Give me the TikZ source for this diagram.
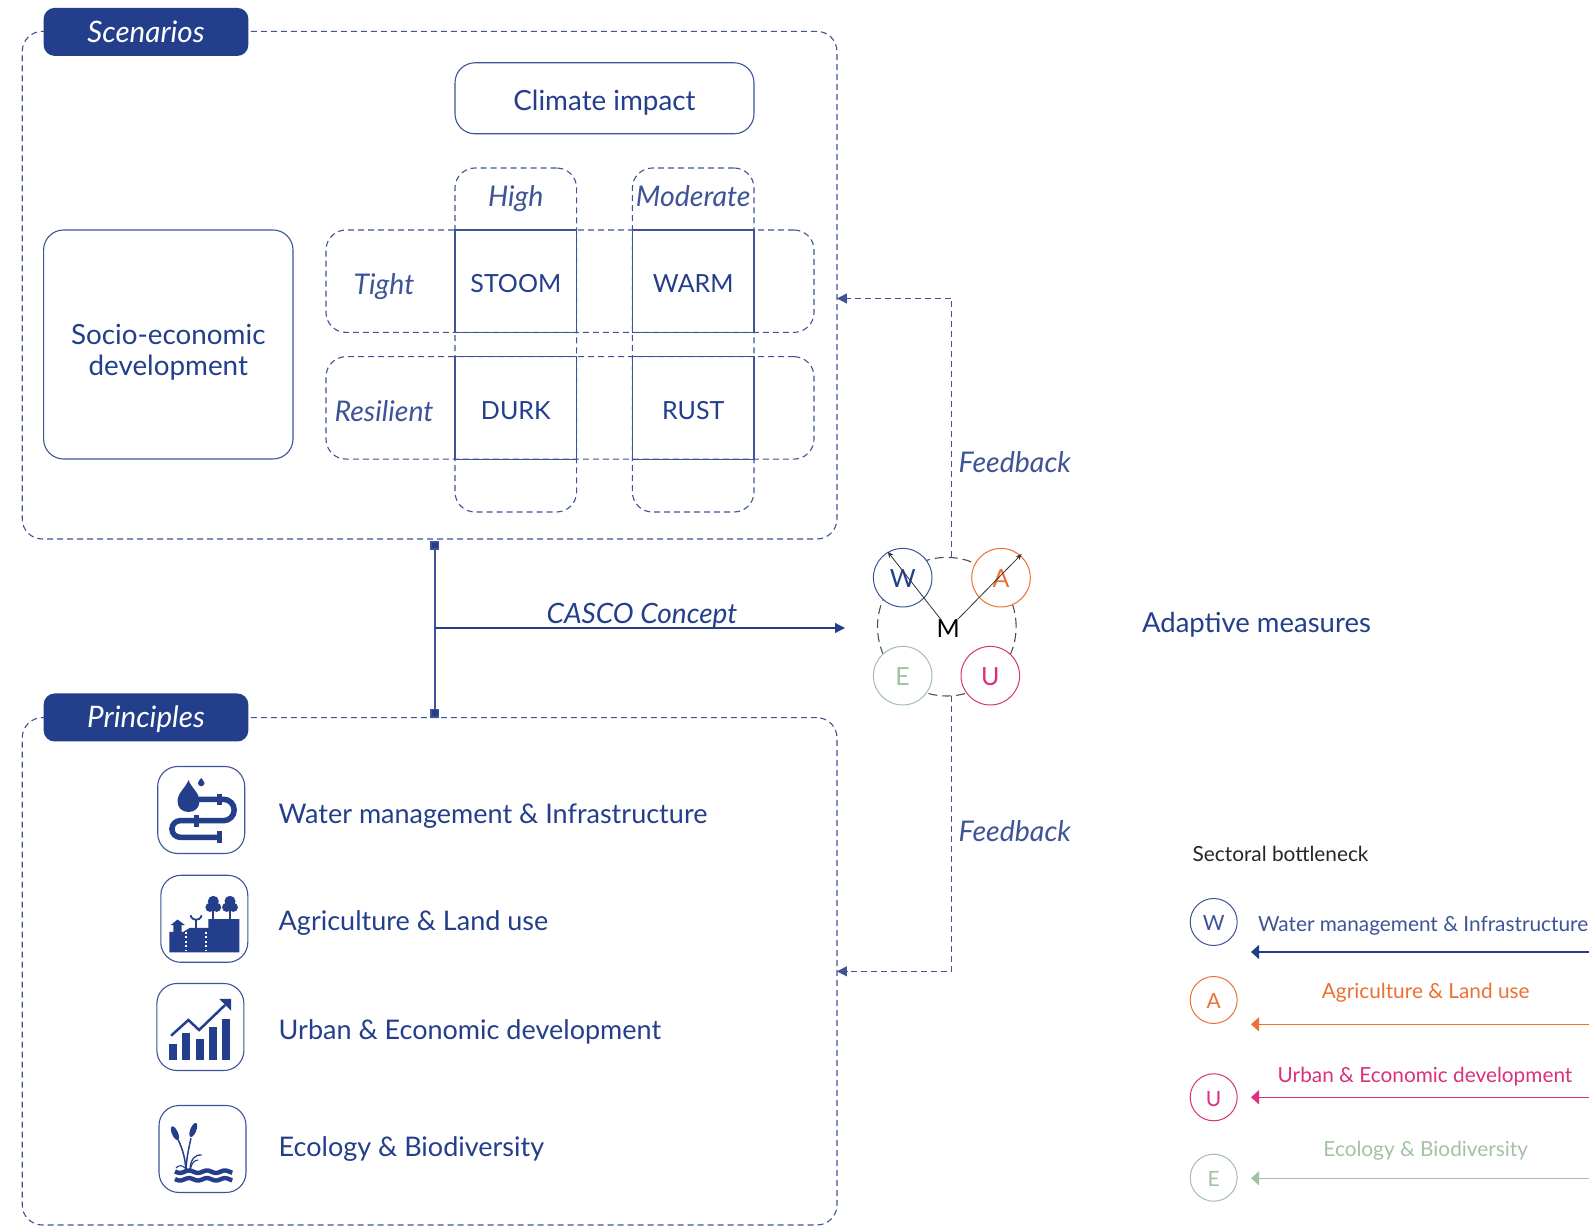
\documentclass[tikz,border=0pt]{standalone}
\usepackage{fontspec}
\setmainfont{Lato}
\usetikzlibrary{arrows.meta}
\definecolor{navyColor}{RGB}{35,63,139}
\definecolor{lineColor}{RGB}{62,84,151}
\definecolor{orangeColor}{RGB}{236,112,50}
\definecolor{pinkColor}{RGB}{217,48,127}
\definecolor{greenColor}{RGB}{164,193,164}
\definecolor{ringColor}{RGB}{80,80,80}
\tikzset{
  box/.style={draw=lineColor,line width=1.1pt,rounded corners=20pt,inner sep=0pt,outer sep=0pt,fill=none},
  dashbox/.style={box,dash pattern=on 6pt off 4pt},
  cell/.style={draw=lineColor,line width=1.1pt,inner sep=0pt,outer sep=0pt,minimum width=121.6pt,minimum height=102.4pt,text=navyColor,text height=23pt,text depth=0pt,font=\fontsize{25}{30}\selectfont},
  tag/.style={fill=navyColor,rounded corners=11pt,inner sep=0pt,outer sep=0pt,minimum width=204.7pt,minimum height=48pt,text=white,text height=21pt,text depth=0pt,font=\fontsize{29.6}{34}\selectfont\itshape},
  lab/.style={text=navyColor,font=\fontsize{27}{32}\selectfont,inner sep=0pt,outer sep=0pt,text height=19pt,text depth=5pt},
  bigger/.style={font=\fontsize{27.8}{31.4}\selectfont},
  ital/.style={text=lineColor,font=\fontsize{28.5}{32}\selectfont\itshape,inner sep=0pt,outer sep=0pt,text height=20pt,text depth=5pt},
  iconbox/.style={box,minimum width=87pt,minimum height=87pt},
  sector/.style={circle,fill=white,inner sep=0pt,outer sep=0pt,line width=1pt,minimum size=58.6pt,text height=20pt,text depth=0pt,font=\fontsize{25}{30}\selectfont},
  legendsector/.style={circle,inner sep=0pt,outer sep=0pt,line width=1pt,minimum size=47pt,text height=18pt,text depth=0pt,font=\fontsize{21}{26}\selectfont},
  legendtext/.style={inner sep=0pt,outer sep=0pt,text height=15pt,text depth=4pt,font=\fontsize{20.8}{26}\selectfont},
  legendarrow/.style={line width=1.2pt,-{Triangle[length=8pt,width=14pt]}},
  feedback/.style={draw=lineColor,line width=1.1pt,dash pattern=on 6pt off 4pt,-{Triangle[length=10pt,width=10pt]}},
}
\begin{document}
\begin{tikzpicture}[x=1pt,y=1pt]
\path[use as bounding box,fill=white] (0,0) rectangle (1589,1226);

% scenarios
\node[dashbox,minimum width=814.7pt,minimum height=507.6pt] (scenbox) at (429.6,940.8) {};
\node[tag] (scentag) at (146,1194.1) {Scenarios};
\node[box,minimum width=299pt,minimum height=71pt,lab,bigger,text height=29pt] (climate) at (604.5,1127.7) {Climate impact};
\node[box,minimum width=249.4pt,minimum height=229pt] (socio) at (168.3,881.5) {};
\node[text=navyColor,bigger,align=center,inner sep=0pt] (sociotext) at (168.3,873.9) {Socio-economic\\development};

\node[dashbox,minimum width=121.6pt,minimum height=344pt] (highcol) at (515.8,886) {};
\node[dashbox,minimum width=121.6pt,minimum height=344pt] (modcol) at (693.2,886) {};
\node[dashbox,minimum width=488pt,minimum height=102.4pt] (tightrow) at (570,944.8) {};
\node[dashbox,minimum width=488pt,minimum height=102.4pt] (resrow) at (570,818.1) {};

\node[cell] (stoom) at (515.8,944.8) {STOOM};
\node[cell] (warm) at (693.2,944.8) {WARM};
\node[cell] (durk) at (515.8,818.1) {DURK};
\node[cell] (rust) at (693.2,818.1) {RUST};

\node[ital] (high) at (515.8,1027.4) {High};
\node[ital] (moderate) at (693.2,1027.4) {Moderate};
\node[ital] (tight) at (384,939.3) {Tight};
\node[ital] (resilient) at (384,812) {Resilient};

% principles
\node[dashbox,minimum width=814.7pt,minimum height=507.3pt] (prinbox) at (429.6,254.65) {};
\node[tag] (printag) at (146,508.5) {Principles};

\node[iconbox] (iconwater) at (201.2,416) {};
\node[iconbox] (iconland) at (204.3,307.2) {};
\node[iconbox] (iconurban) at (200.4,199) {};
\node[iconbox] (iconeco) at (202.5,77) {};

\node[lab,anchor=west] (water) at (278.7,409) {Water management \& Infrastructure};
\node[lab,anchor=west] (land) at (278.7,302) {Agriculture \& Land use};
\node[lab,anchor=west] (urban) at (278.7,193.4) {Urban \& Economic development};
\node[lab,anchor=west] (eco) at (278.7,77) {Ecology \& Biodiversity};

% water icon
\begin{scope}[shift={(iconwater.center)}]
\path[fill=navyColor] (-12.7,30) .. controls (-15,23) and (-23.7,17) .. (-23.7,9) .. controls (-23.7,2) and (-19,-2) .. (-12.7,-2) .. controls (-6.5,-2) and (-1.7,2) .. (-1.7,9) .. controls (-1.7,17) and (-10.4,23) .. cycle;
\path[fill=navyColor] (0,32) .. controls (-1,30) and (-3.3,29) .. (-3.3,27) arc[start angle=180,end angle=360,radius=3.3] .. controls (3.3,29) and (1,30) .. cycle;
\path[draw=navyColor,line width=5.5pt] (-2.7,10.7) -- (22.3,10.7) arc[start angle=90,end angle=-90,radius=10.7] -- (-21,-10.7) arc[start angle=90,end angle=270,radius=8.3] -- (18.3,-27.3);
\path[draw=navyColor,line width=4.7pt] (18.3,16) -- (18.3,5);
\path[draw=navyColor,line width=4.7pt] (-5,-5) -- (-5,-17);
\path[draw=navyColor,line width=4.7pt] (18.3,-21) -- (18.3,-33);
\end{scope}

% land icon
\begin{scope}[shift={(iconland.center)}]
\path[fill=navyColor] (-35,-33.7) -- (-35,-13) -- (-31,-13) -- (-31,-6.3) -- (-33.7,-6.3) -- (-26.7,-0.7) -- (-19.3,-6.3) -- (-22.7,-6.3) -- (-22.7,-13) -- (-21,-13) -- (-14.3,-9) -- (4,-9) -- (4,-0.3) -- (35,-0.3) -- (35,-33.7) -- cycle;
\path[draw=white,line width=2pt,dash pattern=on 2pt off 2.5pt] (-18.7,-13) -- (-18.7,-32);
\path[draw=white,line width=2pt,dash pattern=on 2pt off 2.5pt] (1.3,-13) -- (1.3,-32);
\path[draw=navyColor,line width=1.8pt] (-8.3,-9) -- (-8.3,-1);
\path[draw=navyColor,line width=1.8pt] (-13.7,3.5) .. controls (-13,0) and (-10,-1) .. (-8.3,-1) .. controls (-6,-1) and (-3.5,0) .. (-2.7,3.5);
\foreach \tx in {9,25.7} {
  \path[draw=navyColor,line width=2pt] (\tx,0) -- (\tx,12);
  \path[fill=navyColor] (\tx,17.5) circle (5.5);
  \path[fill=navyColor] (\tx-3.3,11.5) circle (4.6);
  \path[fill=navyColor] (\tx+3.3,11.5) circle (4.6);
}
\end{scope}

% urban icon
\begin{scope}[shift={(iconurban.center)}]
\foreach \bx/\bt in {-31/-17,-18/-6.3,-4.7/-12,9/-0.3,22/8} {
  \path[fill=navyColor] (\bx,-33) rectangle (\bx+8,\bt);
}
\path[draw=navyColor,line width=2.5pt] (-29.3,-8.7) -- (-12,7) -- (-1.3,-3) -- (24.7,22);
\path[fill=navyColor] (30.7,28) -- (19,28) -- (30.7,16.3) -- cycle;
\end{scope}

% eco icon
\begin{scope}[shift={(iconeco.center)}]
\path[fill=navyColor,rotate around={114:(-27.5,15.7)}] (-27.5,15.7) ellipse (7.5 and 3);
\path[fill=navyColor,rotate around={68:(-9.2,19)}] (-9.2,19) ellipse (7.5 and 3);
\path[draw=navyColor,line width=1.5pt] (-24.2,9) .. controls (-20,0) and (-17,-10) .. (-16.8,-20.3);
\path[draw=navyColor,line width=1.5pt] (-11.5,10.7) .. controls (-14,0) and (-16,-10) .. (-16.5,-20.3);
\path[draw=navyColor,line width=1.3pt] (-12.5,-20.3) .. controls (-12,-9) and (-6,-5) .. (-0.8,-6);
\path[draw=navyColor,line width=1.1pt] (-12,-20) .. controls (-11,-14) and (-8,-11) .. (-4.2,-11);
\path[draw=navyColor,line width=1.1pt] (-26.5,-19) .. controls (-24,-16) and (-20,-16) .. (-17.5,-19);
\path[draw=navyColor,line width=4.4pt] plot[domain=-27.5:29.8,samples=60] (\x,{-22.7+1.2*sin(\x*20)});
\path[draw=navyColor,line width=4.4pt] plot[domain=-27.5:29.8,samples=60] (\x,{-30.3+1.2*sin(\x*20)});
\end{scope}

% ring of sectors
\node[circle,draw=ringColor,line width=1.1pt,dash pattern=on 9pt off 5pt,minimum size=138.6pt,inner sep=0pt,outer sep=0pt] (ring) at (946.8,599.3) {};
\node[sector,draw=lineColor,text=navyColor] (sectorw) at (902.7,648.3) {W};
\node[sector,draw=orangeColor,text=orangeColor] (sectora) at (1001,648.3) {A};
\node[sector,draw=greenColor,text=greenColor] (sectore) at (902.7,550.3) {E};
\node[sector,draw=pinkColor,text=pinkColor] (sectoru) at (990.3,550.3) {U};
\node[text=black,font=\fontsize{25}{30}\selectfont,text height=17pt,text depth=0pt,inner sep=1pt] (mnode) at (948.3,597) {M};
\coordinate (wtip) at (887.7,674.3);
\coordinate (atip) at (1021.7,672);
\draw[black!80,line width=0.8pt,-{Stealth[length=6pt,width=5pt]}] (mnode) -- (wtip);
\draw[black!80,line width=0.8pt,-{Stealth[length=6pt,width=5pt]}] (mnode) -- (atip);

% connectors
\draw[draw=lineColor,line width=1.7pt,{Square[length=9pt,width=9pt,fill=navyColor]}-{Square[length=9pt,width=9pt,fill=navyColor]}] ([xshift=5.1pt,yshift=-2pt]scenbox.south) -- ([xshift=5.1pt]prinbox.north);
\coordinate (cascostart) at (434.7,598);
\coordinate (cascoend) at (845,598);
\draw[draw=navyColor,line width=1.1pt,-{Triangle[length=10pt,width=10pt]}] (cascostart) -- (cascoend) node[pos=0.505,above=-1pt,ital,text=navyColor,font=\fontsize{28}{32}\selectfont\itshape] (casco) {CASCO Concept};
\draw[feedback] ([xshift=5pt]ring.north) |- ([yshift=-13.3pt]scenbox.east);
\draw[feedback] ([xshift=5pt]ring.south) |- (prinbox.east);
\node[ital,anchor=west] (fbtop) at (958.7,761) {Feedback};
\node[ital,anchor=west] (fbbottom) at (958.7,392) {Feedback};
\node[lab,anchor=west,font=\fontsize{27.5}{32}\selectfont] (adaptive) at (1142,600) {Adaptive measures};

% legend
\node[legendtext,anchor=west,text=black!85] (legendtitle) at (1192.7,370) {Sectoral bottleneck};
\node[legendsector,draw=lineColor,text=lineColor] (legendw) at (1213.7,304) {W};
\node[legendsector,draw=orangeColor,text=orangeColor] (legenda) at (1213.7,226) {A};
\node[legendsector,draw=pinkColor,text=pinkColor] (legendu) at (1213.7,128.7) {U};
\node[legendsector,draw=greenColor,text=greenColor] (legende) at (1213.7,48.3) {E};
\node[legendtext,anchor=west,text=lineColor] (legendwater) at (1258,300) {Water management \& Infrastructure};
\node[legendtext,text=orangeColor] (legendland) at (1425.7,233.3) {Agriculture \& Land use};
\node[legendtext,text=pinkColor] (legendurban) at (1425,149.3) {Urban \& Economic development};
\node[legendtext,text=greenColor] (legendeco) at (1425.7,75) {Ecology \& Biodiversity};
\foreach \lname/\ly/\lcolor in {w/274/navyColor,a/201.7/orangeColor,u/128.7/pinkColor,e/47.7/greenColor} {
  \coordinate (\lname start) at (1589,\ly);
  \coordinate (\lname end) at (1251,\ly);
  \draw[legendarrow,draw=\lcolor,fill=\lcolor] (\lname start) -- (\lname end);
}
\end{tikzpicture}
\end{document}
